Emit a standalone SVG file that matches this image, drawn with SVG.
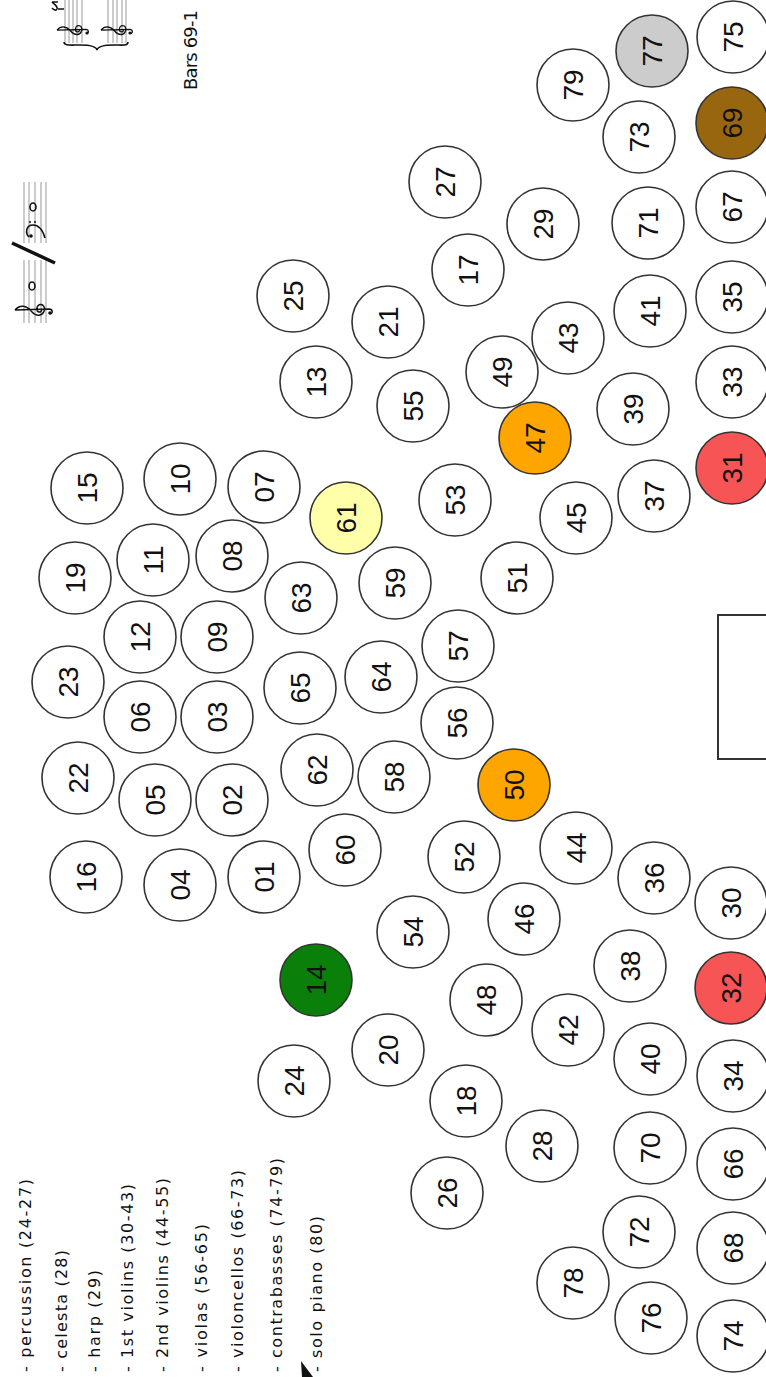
<svg xmlns="http://www.w3.org/2000/svg" width="766" height="1377" viewBox="0 0 766 1377">
<style>
.c{fill:#fff;stroke:#333;stroke-width:1.6}
.t{font-family:"Liberation Sans",Arial,sans-serif;font-size:28px;fill:#111;text-anchor:middle}
.lg{font-family:"DejaVu Sans","Liberation Sans",sans-serif;font-size:16px;fill:#111}
.st{stroke:#999;stroke-width:1}
.ink{fill:none;stroke:#111;stroke-width:1.6}
.yel{fill:#ffffaa}.grn{fill:#0a7f0a}.org{fill:#ffa500}.red{fill:#f75555}.brn{fill:#996610}.gry{fill:#cccccc}
</style>
<defs>
<g id="treble">
<path class="ink" d="M1,-20 C7,-15 6,-8 0,-3 C-6,2 -6,9 1,11 C8,12 9,3 2,3 C-2,3 -2,8 1,8 M1,-20 L2,16 C2,20 -3,20 -3,17"/>
</g>
<g id="bass">
<path class="ink" d="M-4,-5 C0,-9 8,-8 8,-1 C8,5 2,9 -5,11"/>
<circle cx="-3" cy="-3" r="1.8" fill="#111"/>
<circle cx="11" cy="-4" r="1" fill="#111"/>
<circle cx="11" cy="1" r="1" fill="#111"/>
</g>
</defs>
<rect width="766" height="1377" fill="#fff"/>

<g id="music">
<g id="staffTop">
<line class="st" x1="65" y1="0" x2="65" y2="43"/><line class="st" x1="69" y1="0" x2="69" y2="43"/><line class="st" x1="73" y1="0" x2="73" y2="43"/><line class="st" x1="77" y1="0" x2="77" y2="43"/><line class="st" x1="82" y1="0" x2="82" y2="43"/>
<line class="st" x1="108" y1="0" x2="108" y2="43"/><line class="st" x1="113" y1="0" x2="113" y2="43"/><line class="st" x1="117" y1="0" x2="117" y2="43"/><line class="st" x1="122" y1="0" x2="122" y2="43"/><line class="st" x1="126" y1="0" x2="126" y2="43"/>
<use href="#treble" transform="translate(73,31) rotate(-90) scale(0.8)"/>
<use href="#treble" transform="translate(117,31) rotate(-90) scale(0.8)"/>
<circle cx="87" cy="33" r="1.6" fill="#111"/><circle cx="130" cy="33" r="1.6" fill="#111"/>
<path class="ink" d="M64,42 C64,46 70,45 80,45 C90,45 96,46 97,50 C98,46 104,45 114,45 C124,45 128,46 128,42" stroke-width="1.2"/>
<path class="ink" d="M52,2 L58,2 M52,2 C55,5 58,6 57,9 C56,11 54,10 52,8 M58,9 L64,9" stroke-width="0.9"/>
</g>
<g id="staffMid">
<line class="st" x1="24" y1="182" x2="24" y2="243"/><line class="st" x1="29" y1="182" x2="29" y2="243"/><line class="st" x1="35" y1="182" x2="35" y2="243"/><line class="st" x1="41" y1="182" x2="41" y2="243"/><line class="st" x1="46" y1="182" x2="46" y2="243"/>
<line class="st" x1="24" y1="260" x2="24" y2="323"/><line class="st" x1="29" y1="260" x2="29" y2="323"/><line class="st" x1="35" y1="260" x2="35" y2="323"/><line class="st" x1="41" y1="260" x2="41" y2="323"/><line class="st" x1="46" y1="260" x2="46" y2="323"/>
<use href="#treble" transform="translate(34,311) rotate(-90) scale(0.95)"/>
<circle cx="50" cy="313" r="1.8" fill="#111"/>
<use href="#bass" transform="translate(34,233) rotate(-90)"/>
<ellipse cx="32" cy="286" rx="3" ry="4" class="ink" stroke-width="1.4"/>
<ellipse cx="33" cy="207" rx="3" ry="4" class="ink" stroke-width="1.4"/>
<line x1="12" y1="243" x2="55" y2="263" stroke="#111" stroke-width="3.5"/>
</g>
<text class="lg" transform="translate(197,90) rotate(-90)" textLength="80" style="font-size:18px">Bars 69-1</text>
<polygon points="301,1361 313,1377 302,1377" fill="#111"/>
</g>

<g id="legend">
<text class="lg" transform="translate(31,1372) rotate(-90)" textLength="193">- percussion (24-27)</text>
<text class="lg" transform="translate(67,1372) rotate(-90)" textLength="122">- celesta (28)</text>
<text class="lg" transform="translate(100,1372) rotate(-90)" textLength="102">- harp (29)</text>
<text class="lg" transform="translate(133,1372) rotate(-90)" textLength="188">- 1st violins (30-43)</text>
<text class="lg" transform="translate(168,1372) rotate(-90)" textLength="194">- 2nd violins (44-55)</text>
<text class="lg" transform="translate(207,1372) rotate(-90)" textLength="148">- violas (56-65)</text>
<text class="lg" transform="translate(243,1372) rotate(-90)" textLength="202">- violoncellos (66-73)</text>
<text class="lg" transform="translate(282,1372) rotate(-90)" textLength="214">- contrabasses (74-79)</text>
<text class="lg" transform="translate(322,1372) rotate(-90)" textLength="156">- solo piano (80)</text>
</g>

<g id="podium"><rect x="718" y="615" width="60" height="144" fill="#fff" stroke="#333" stroke-width="2"/></g>

<g id="connectors"></g>

<g id="nodes">
<g id="n15"><circle class="c" cx="87" cy="488" r="36"/><text class="t" transform="translate(87,488) rotate(-90)" dy="10">15</text></g>
<g id="n19"><circle class="c" cx="75" cy="578" r="36"/><text class="t" transform="translate(75,578) rotate(-90)" dy="10">19</text></g>
<g id="n23"><circle class="c" cx="68" cy="682" r="36"/><text class="t" transform="translate(68,682) rotate(-90)" dy="10">23</text></g>
<g id="n22"><circle class="c" cx="78" cy="778" r="36"/><text class="t" transform="translate(78,778) rotate(-90)" dy="10">22</text></g>
<g id="n16"><circle class="c" cx="86" cy="877" r="36"/><text class="t" transform="translate(86,877) rotate(-90)" dy="10">16</text></g>
<g id="n10"><circle class="c" cx="180" cy="479" r="36"/><text class="t" transform="translate(180,479) rotate(-90)" dy="10">10</text></g>
<g id="n11"><circle class="c" cx="153" cy="560" r="36"/><text class="t" transform="translate(153,560) rotate(-90)" dy="10">11</text></g>
<g id="n12"><circle class="c" cx="140" cy="637" r="36"/><text class="t" transform="translate(140,637) rotate(-90)" dy="10">12</text></g>
<g id="n06"><circle class="c" cx="140" cy="717" r="36"/><text class="t" transform="translate(140,717) rotate(-90)" dy="10">06</text></g>
<g id="n05"><circle class="c" cx="155" cy="800" r="36"/><text class="t" transform="translate(155,800) rotate(-90)" dy="10">05</text></g>
<g id="n04"><circle class="c" cx="180" cy="885" r="36"/><text class="t" transform="translate(180,885) rotate(-90)" dy="10">04</text></g>
<g id="n07"><circle class="c" cx="264" cy="487" r="36"/><text class="t" transform="translate(264,487) rotate(-90)" dy="10">07</text></g>
<g id="n08"><circle class="c" cx="232" cy="556" r="36"/><text class="t" transform="translate(232,556) rotate(-90)" dy="10">08</text></g>
<g id="n09"><circle class="c" cx="217" cy="637" r="36"/><text class="t" transform="translate(217,637) rotate(-90)" dy="10">09</text></g>
<g id="n03"><circle class="c" cx="217" cy="717" r="36"/><text class="t" transform="translate(217,717) rotate(-90)" dy="10">03</text></g>
<g id="n02"><circle class="c" cx="232" cy="800" r="36"/><text class="t" transform="translate(232,800) rotate(-90)" dy="10">02</text></g>
<g id="n01"><circle class="c" cx="264" cy="877" r="36"/><text class="t" transform="translate(264,877) rotate(-90)" dy="10">01</text></g>
<g id="n25"><circle class="c" cx="293" cy="296" r="36"/><text class="t" transform="translate(293,296) rotate(-90)" dy="10">25</text></g>
<g id="n13"><circle class="c" cx="316" cy="382" r="36"/><text class="t" transform="translate(316,382) rotate(-90)" dy="10">13</text></g>
<g id="n61"><circle class="c yel" cx="346" cy="518" r="36"/><text class="t" transform="translate(346,518) rotate(-90)" dy="10">61</text></g>
<g id="n63"><circle class="c" cx="301" cy="598" r="36"/><text class="t" transform="translate(301,598) rotate(-90)" dy="10">63</text></g>
<g id="n65"><circle class="c" cx="300" cy="688" r="36"/><text class="t" transform="translate(300,688) rotate(-90)" dy="10">65</text></g>
<g id="n62"><circle class="c" cx="317" cy="770" r="36"/><text class="t" transform="translate(317,770) rotate(-90)" dy="10">62</text></g>
<g id="n60"><circle class="c" cx="345" cy="850" r="36"/><text class="t" transform="translate(345,850) rotate(-90)" dy="10">60</text></g>
<g id="n14"><circle class="c grn" cx="316" cy="980" r="36"/><text class="t" transform="translate(316,980) rotate(-90)" dy="10">14</text></g>
<g id="n24"><circle class="c" cx="294" cy="1081" r="36"/><text class="t" transform="translate(294,1081) rotate(-90)" dy="10">24</text></g>
<g id="n21"><circle class="c" cx="388" cy="322" r="36"/><text class="t" transform="translate(388,322) rotate(-90)" dy="10">21</text></g>
<g id="n55"><circle class="c" cx="413" cy="406" r="36"/><text class="t" transform="translate(413,406) rotate(-90)" dy="10">55</text></g>
<g id="n53"><circle class="c" cx="455" cy="500" r="36"/><text class="t" transform="translate(455,500) rotate(-90)" dy="10">53</text></g>
<g id="n59"><circle class="c" cx="395" cy="583" r="36"/><text class="t" transform="translate(395,583) rotate(-90)" dy="10">59</text></g>
<g id="n64"><circle class="c" cx="381" cy="677" r="36"/><text class="t" transform="translate(381,677) rotate(-90)" dy="10">64</text></g>
<g id="n58"><circle class="c" cx="394" cy="777" r="36"/><text class="t" transform="translate(394,777) rotate(-90)" dy="10">58</text></g>
<g id="n52"><circle class="c" cx="464" cy="857" r="36"/><text class="t" transform="translate(464,857) rotate(-90)" dy="10">52</text></g>
<g id="n54"><circle class="c" cx="413" cy="932" r="36"/><text class="t" transform="translate(413,932) rotate(-90)" dy="10">54</text></g>
<g id="n20"><circle class="c" cx="388" cy="1050" r="36"/><text class="t" transform="translate(388,1050) rotate(-90)" dy="10">20</text></g>
<g id="n27"><circle class="c" cx="445" cy="182" r="36"/><text class="t" transform="translate(445,182) rotate(-90)" dy="10">27</text></g>
<g id="n17"><circle class="c" cx="468" cy="270" r="36"/><text class="t" transform="translate(468,270) rotate(-90)" dy="10">17</text></g>
<g id="n49"><circle class="c" cx="502" cy="372" r="36"/><text class="t" transform="translate(502,372) rotate(-90)" dy="10">49</text></g>
<g id="n47"><circle class="c org" cx="535" cy="438" r="36"/><text class="t" transform="translate(535,438) rotate(-90)" dy="10">47</text></g>
<g id="n51"><circle class="c" cx="517" cy="578" r="36"/><text class="t" transform="translate(517,578) rotate(-90)" dy="10">51</text></g>
<g id="n57"><circle class="c" cx="458" cy="646" r="36"/><text class="t" transform="translate(458,646) rotate(-90)" dy="10">57</text></g>
<g id="n56"><circle class="c" cx="457" cy="723" r="36"/><text class="t" transform="translate(457,723) rotate(-90)" dy="10">56</text></g>
<g id="n50"><circle class="c org" cx="514" cy="785" r="36"/><text class="t" transform="translate(514,785) rotate(-90)" dy="10">50</text></g>
<g id="n46"><circle class="c" cx="524" cy="919" r="36"/><text class="t" transform="translate(524,919) rotate(-90)" dy="10">46</text></g>
<g id="n48"><circle class="c" cx="486" cy="1000" r="36"/><text class="t" transform="translate(486,1000) rotate(-90)" dy="10">48</text></g>
<g id="n18"><circle class="c" cx="466" cy="1101" r="36"/><text class="t" transform="translate(466,1101) rotate(-90)" dy="10">18</text></g>
<g id="n26"><circle class="c" cx="447" cy="1193" r="36"/><text class="t" transform="translate(447,1193) rotate(-90)" dy="10">26</text></g>
<g id="n79"><circle class="c" cx="573" cy="85" r="36"/><text class="t" transform="translate(573,85) rotate(-90)" dy="10">79</text></g>
<g id="n29"><circle class="c" cx="543" cy="224" r="36"/><text class="t" transform="translate(543,224) rotate(-90)" dy="10">29</text></g>
<g id="n43"><circle class="c" cx="568" cy="338" r="36"/><text class="t" transform="translate(568,338) rotate(-90)" dy="10">43</text></g>
<g id="n45"><circle class="c" cx="576" cy="518" r="36"/><text class="t" transform="translate(576,518) rotate(-90)" dy="10">45</text></g>
<g id="n44"><circle class="c" cx="576" cy="848" r="36"/><text class="t" transform="translate(576,848) rotate(-90)" dy="10">44</text></g>
<g id="n42"><circle class="c" cx="568" cy="1030" r="36"/><text class="t" transform="translate(568,1030) rotate(-90)" dy="10">42</text></g>
<g id="n28"><circle class="c" cx="542" cy="1146" r="36"/><text class="t" transform="translate(542,1146) rotate(-90)" dy="10">28</text></g>
<g id="n78"><circle class="c" cx="573" cy="1283" r="36"/><text class="t" transform="translate(573,1283) rotate(-90)" dy="10">78</text></g>
<g id="n77"><circle class="c gry" cx="652" cy="51" r="36"/><text class="t" transform="translate(652,51) rotate(-90)" dy="10">77</text></g>
<g id="n73"><circle class="c" cx="639" cy="137" r="36"/><text class="t" transform="translate(639,137) rotate(-90)" dy="10">73</text></g>
<g id="n71"><circle class="c" cx="648" cy="223" r="36"/><text class="t" transform="translate(648,223) rotate(-90)" dy="10">71</text></g>
<g id="n41"><circle class="c" cx="650" cy="311" r="36"/><text class="t" transform="translate(650,311) rotate(-90)" dy="10">41</text></g>
<g id="n39"><circle class="c" cx="633" cy="409" r="36"/><text class="t" transform="translate(633,409) rotate(-90)" dy="10">39</text></g>
<g id="n37"><circle class="c" cx="654" cy="496" r="36"/><text class="t" transform="translate(654,496) rotate(-90)" dy="10">37</text></g>
<g id="n36"><circle class="c" cx="654" cy="878" r="36"/><text class="t" transform="translate(654,878) rotate(-90)" dy="10">36</text></g>
<g id="n38"><circle class="c" cx="630" cy="966" r="36"/><text class="t" transform="translate(630,966) rotate(-90)" dy="10">38</text></g>
<g id="n40"><circle class="c" cx="650" cy="1059" r="36"/><text class="t" transform="translate(650,1059) rotate(-90)" dy="10">40</text></g>
<g id="n70"><circle class="c" cx="650" cy="1148" r="36"/><text class="t" transform="translate(650,1148) rotate(-90)" dy="10">70</text></g>
<g id="n72"><circle class="c" cx="639" cy="1232" r="36"/><text class="t" transform="translate(639,1232) rotate(-90)" dy="10">72</text></g>
<g id="n76"><circle class="c" cx="651" cy="1318" r="36"/><text class="t" transform="translate(651,1318) rotate(-90)" dy="10">76</text></g>
<g id="n75"><circle class="c" cx="733" cy="37" r="36"/><text class="t" transform="translate(733,37) rotate(-90)" dy="10">75</text></g>
<g id="n69"><circle class="c brn" cx="732" cy="123" r="36"/><text class="t" transform="translate(732,123) rotate(-90)" dy="10">69</text></g>
<g id="n67"><circle class="c" cx="732" cy="207" r="36"/><text class="t" transform="translate(732,207) rotate(-90)" dy="10">67</text></g>
<g id="n35"><circle class="c" cx="732" cy="297" r="36"/><text class="t" transform="translate(732,297) rotate(-90)" dy="10">35</text></g>
<g id="n33"><circle class="c" cx="732" cy="382" r="36"/><text class="t" transform="translate(732,382) rotate(-90)" dy="10">33</text></g>
<g id="n31"><circle class="c red" cx="732" cy="468" r="36"/><text class="t" transform="translate(732,468) rotate(-90)" dy="10">31</text></g>
<g id="n30"><circle class="c" cx="731" cy="903" r="36"/><text class="t" transform="translate(731,903) rotate(-90)" dy="10">30</text></g>
<g id="n32"><circle class="c red" cx="731" cy="988" r="36"/><text class="t" transform="translate(731,988) rotate(-90)" dy="10">32</text></g>
<g id="n34"><circle class="c" cx="733" cy="1076" r="36"/><text class="t" transform="translate(733,1076) rotate(-90)" dy="10">34</text></g>
<g id="n66"><circle class="c" cx="733" cy="1164" r="36"/><text class="t" transform="translate(733,1164) rotate(-90)" dy="10">66</text></g>
<g id="n68"><circle class="c" cx="733" cy="1248" r="36"/><text class="t" transform="translate(733,1248) rotate(-90)" dy="10">68</text></g>
<g id="n74"><circle class="c" cx="733" cy="1336" r="36"/><text class="t" transform="translate(733,1336) rotate(-90)" dy="10">74</text></g>
</g>
</svg>
